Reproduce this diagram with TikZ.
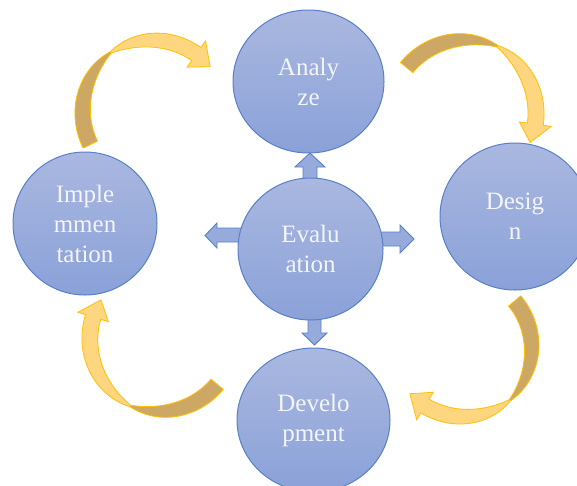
\documentclass[tikz,border=0pt]{standalone}
\usepackage{fontspec}
\setmainfont{Liberation Serif}
\usetikzlibrary{shapes.geometric}
\definecolor{circtop}{RGB}{170,184,224}
\definecolor{circbot}{RGB}{138,161,216}
\definecolor{circline}{RGB}{88,128,202}
\definecolor{blockfill}{RGB}{150,170,220}
\definecolor{arrdark}{RGB}{204,168,100}
\definecolor{arrlight}{RGB}{255,214,128}
\definecolor{arrline}{RGB}{255,192,0}
\definecolor{txtcol}{RGB}{243,245,250}
\tikzset{
  phase/.style={ellipse, draw=circline, line width=1pt, top color=circtop,
    bottom color=circbot, text=txtcol, align=center, inner sep=0pt,
    font=\fontsize{25}{30}\selectfont},
  blockarr/.style={draw=circline, line width=0.9pt, fill=blockfill, line join=miter},
  ribbondark/.style={fill=arrdark, draw=arrline, line width=0.8pt, line join=round},
  ribbonlight/.style={fill=arrlight, draw=arrline, line width=0.8pt, line join=miter},
}
% #1 cx, #2 cy, #3 R, #4 tail angle, #5 pinch angle, #6 head-base angle, #7 tip angle
\newcommand{\ribbonarrow}[7]{%
  \begin{scope}[shift={(#1,#2)}]
    \pgfmathsetmacro\Rh{#3+16}
    \pgfmathsetmacro\Rj{#3-16}
    \filldraw[ribbondark]
      plot[domain=#4:#5, samples=40, variable=\t]
        (\t:{#3+3*((\t-(#4))/((#5)-(#4)))^2+0.8+7.2*(1-((\t-(#4))/((#5)-(#4)))^3)})
      -- plot[domain=#5:#4, samples=40, variable=\t]
        (\t:{#3+3*((\t-(#4))/((#5)-(#4)))^2-0.8-7.2*(1-((\t-(#4))/((#5)-(#4)))^3)})
      -- cycle;
    \filldraw[ribbonlight]
      plot[domain=#5:#6, samples=40, variable=\t]
        (\t:{#3+3*(1-(\t-(#5))/((#6)-(#5)))^2+0.8+7.2*(1-(1-(\t-(#5))/((#6)-(#5)))^3)})
      -- (#6:\Rh) -- (#7:#3) -- (#6:\Rj)
      -- plot[domain=#6:#5, samples=40, variable=\t]
        (\t:{#3+3*(1-(\t-(#5))/((#6)-(#5)))^2-0.8-7.2*(1-(1-(\t-(#5))/((#6)-(#5)))^3)})
      -- cycle;
  \end{scope}%
}
\begin{document}
\begin{tikzpicture}[x=1pt,y=1pt]
\useasboundingbox (0,0) rectangle (577,-485);
\fill[white] (0,0) rectangle (577,-485);

% curved arrows
\ribbonarrow{155}{-113}{72}{206}{126}{55}{40}
\ribbonarrow{463}{-114}{73}{140.5}{63}{-8}{-23}
\ribbonarrow{461}{-346}{70}{40}{-48}{-121}{-137}
\ribbonarrow{162}{-338}{72}{-40}{-115}{-197}{-212}

% block arrows from Evaluation
\draw[blockarr] (303,-186) -- (303,-167) -- (295,-167) -- (310,-153) -- (325,-167) -- (317,-167) -- (317,-186) -- cycle;
\draw[blockarr] (244,-228) -- (217,-228) -- (217,-223) -- (205,-235.5) -- (217,-248) -- (217,-242) -- (244,-242) -- cycle;
\draw[blockarr] (376,-232) -- (400,-232) -- (400,-225) -- (414,-239) -- (400,-253) -- (400,-246) -- (376,-246) -- cycle;
\draw[blockarr] (308,-314) -- (308,-333) -- (302,-333) -- (314.5,-345) -- (327,-333) -- (321,-333) -- (321,-314) -- cycle;

% phases
\node[phase, minimum width=151, minimum height=143] (ana) at (308.5,-81.5) {Analy\\ze};
\node[phase, minimum width=150, minimum height=147] (des) at (515,-216.5) {Desig\\n};
\node[phase, minimum width=144, minimum height=143] (imp) at (85,-223.5) {Imple\\mmen\\tation};
\node[phase, minimum width=153, minimum height=144] (dev) at (313.5,-420) {Develo\\pment};
\node[phase, minimum width=145, minimum height=142] (eva) at (310.5,-249) {Evalu\\ation};
\end{tikzpicture}
\end{document}
